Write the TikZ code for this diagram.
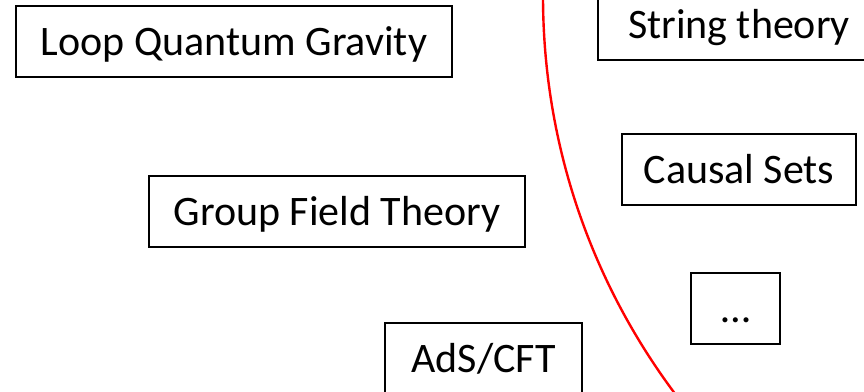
\documentclass[tikz,border=0pt]{standalone}
\usepackage{fontspec}
\setmainfont{Carlito}
\begin{document}
\begin{tikzpicture}[x=1pt,y=-1pt,
  box/.style={draw=black,line width=1.3pt,minimum height=71pt,inner sep=0pt,
    font=\fontsize{42}{46}\selectfont,text depth=10pt,text height=38pt},
  sep/.style={draw=red,line width=2.4pt}]
\useasboundingbox (0,0) rectangle (864,391);
\clip (0,0) rectangle (864,391);
\node[box,minimum width=436pt] (lqg) at (234,41.5) {Loop Quantum Gravity};
\node[box,minimum width=282pt] (st) at (739,24.5) {String theory};
\node[box,minimum width=234pt] (cs) at (739,169.5) {Causal Sets};
\node[box,minimum width=376pt] (gft) at (337,211.5) {Group Field Theory};
\node[box,minimum width=89pt] (dots) at (735.5,308.5) {\dots};
\node[box,minimum width=197pt] (ads) at (483.5,358.5) {AdS/CFT};
\coordinate (c) at (1207,-3.7);
\draw[sep] (c) circle[radius=664pt];
\end{tikzpicture}
\end{document}
